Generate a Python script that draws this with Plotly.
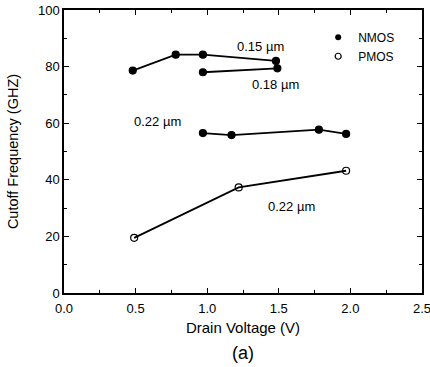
import plotly.graph_objects as go

# Data
x_015 = [0.48, 0.78, 0.97, 1.48]
y_015 = [78.6, 84.2, 84.2, 82.0]

x_018 = [0.97, 1.49]
y_018 = [78.0, 79.4]

x_022n = [0.97, 1.17, 1.78, 1.97]
y_022n = [56.5, 55.8, 57.7, 56.2]

x_022p = [0.49, 1.22, 1.97]
y_022p = [19.5, 37.3, 43.2]

labels = ["0.15 \u00b5m", "0.18 \u00b5m", "0.22 \u00b5m", "0.22 \u00b5m"]
label_x = [1.37, 1.48, 0.65, 1.59]
label_y = [87.0, 73.7, 60.5, 30.5]

FONT = "Liberation Sans, Arial, Helvetica, sans-serif"
fig = go.Figure()

def line(xs, ys, filled):
    fig.add_trace(go.Scatter(
        x=xs, y=ys, mode="lines+markers", showlegend=False,
        line=dict(color="black", width=1.8),
        marker=dict(symbol="circle" if filled else "circle-open", size=7,
                    color="black", line=dict(color="black", width=1.2)),
    ))

line(x_015, y_015, True)
line(x_018, y_018, True)
line(x_022n, y_022n, True)
line(x_022p, y_022p, False)

fig.add_trace(go.Scatter(x=[None], y=[None], mode="markers", name="NMOS",
                         marker=dict(symbol="circle", size=6, color="black")))
fig.add_trace(go.Scatter(x=[None], y=[None], mode="markers", name="PMOS",
                         marker=dict(symbol="circle-open", size=6, color="black",
                                     line=dict(width=1.2))))

for t, lx, ly in zip(labels, label_x, label_y):
    fig.add_annotation(x=lx, y=ly, text=t, showarrow=False,
                       font=dict(size=13, color="black", family=FONT))

fig.add_annotation(x=0.5, xref="paper", y=-0.254, yref="paper", text="(a)",
                   showarrow=False, font=dict(size=18, color="black", family=FONT))

axis_common = dict(showline=True, linecolor="black", linewidth=1.5, mirror="ticks",
                   ticks="inside", ticklen=5, tickwidth=1.2, tickcolor="black",
                   showgrid=False, zeroline=False, automargin=False,
                   ticklabeloverflow="allow",
                   tickfont=dict(size=13, color="black", family=FONT))

fig.update_xaxes(range=[0, 2.5], tick0=0, dtick=0.5, tickformat=".1f",
                 ticklabelstandoff=3,
                 title=dict(text="Drain Voltage (V)", font=dict(size=15, color="black", family=FONT), standoff=7),
                 minor=dict(ticks="inside", ticklen=3, dtick=0.25, tickcolor="black"),
                 **axis_common)
fig.update_yaxes(range=[0, 100], tick0=0, dtick=20,
                 title=dict(text="Cutoff Frequency (GHZ)", font=dict(size=14.5, color="black", family=FONT), standoff=16),
                 minor=dict(ticks="inside", ticklen=3, dtick=10, tickcolor="black"),
                 **axis_common)

fig.update_layout(
    width=430, height=367,
    margin=dict(l=64, r=8, t=10, b=74),
    paper_bgcolor="white", plot_bgcolor="white",
    font=dict(family=FONT, color="black"),
    legend=dict(x=0.71, y=0.955, xanchor="left", yanchor="top",
                bgcolor="rgba(0,0,0,0)", font=dict(size=12, family=FONT),
                itemwidth=30, tracegroupgap=0),
)

# remove the default page margin so the figure sits at the window's top-left corner
fig.write_html("out.html", config={"displayModeBar": False},
               post_script="document.body.style.margin='0';")
